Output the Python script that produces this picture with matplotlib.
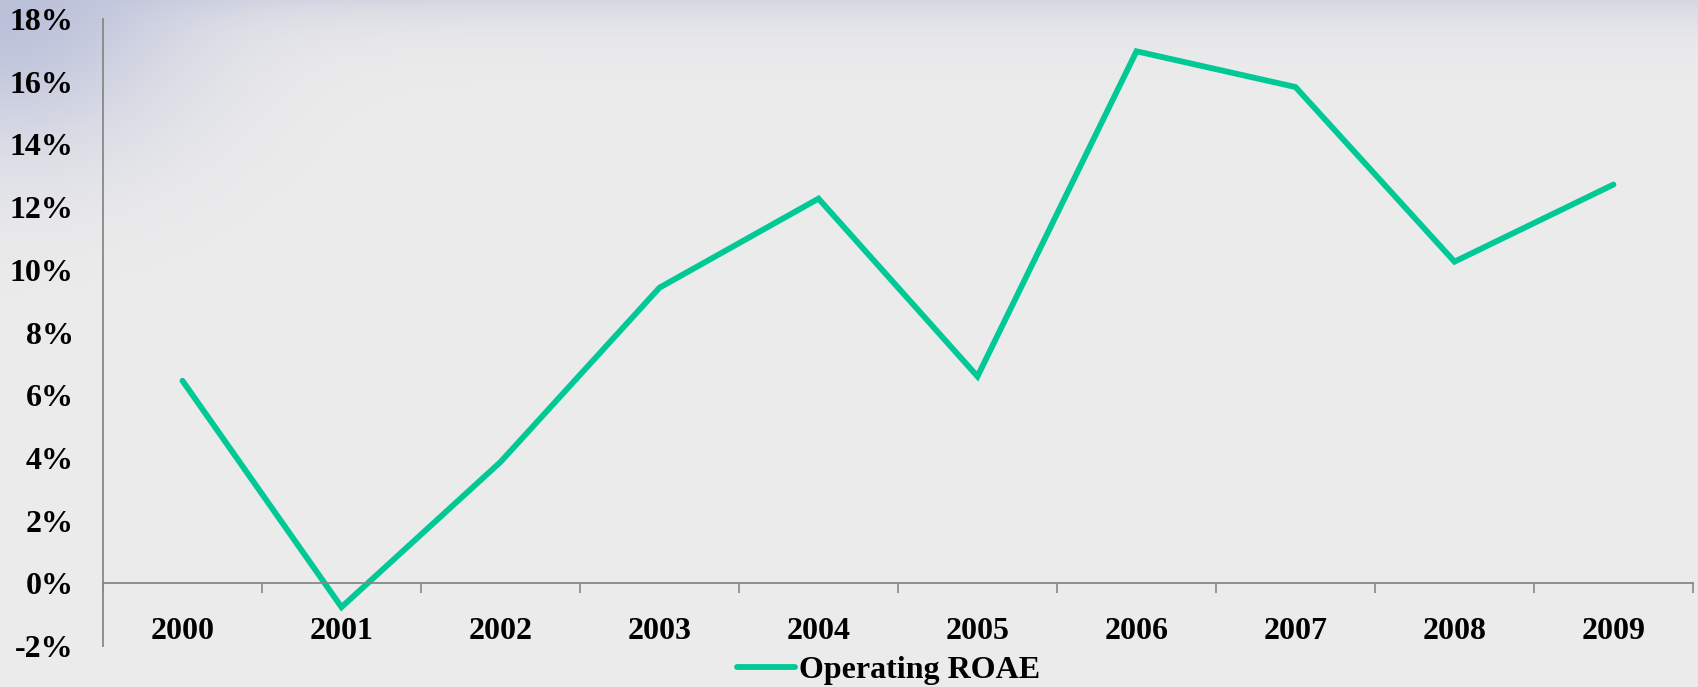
import numpy as np
import matplotlib.pyplot as plt

# Operating ROAE by year (%)
years = ['2000', '2001', '2002', '2003', '2004', '2005', '2006', '2007', '2008', '2009']
roae = [6.46, -0.76, 3.87, 9.43, 12.27, 6.6, 16.97, 15.83, 10.26, 12.72]
yticks = [-2, 0, 2, 4, 6, 8, 10, 12, 14, 16, 18]

W, H = 1698, 687
fig = plt.figure(figsize=(W / 100, H / 100), dpi=100)

# light grey backdrop with a bluish wash along the top and top-left corner
yy, xx = np.mgrid[0:H, 0:W].astype(float)
base = np.array([236, 236, 236]) / 255
top = np.array([212, 214, 226]) / 255
corner = np.array([188, 193, 218]) / 255
t_top = np.exp(-yy / 26.0)[..., None]
t_corner = np.exp(-((xx / 190.0) ** 2 + (yy / 150.0) ** 2))[..., None]
bg = base * (1 - t_top) + top * t_top
bg = bg * (1 - t_corner) + corner * t_corner
bgax = fig.add_axes([0, 0, 1, 1], zorder=-1)
bgax.imshow(bg, aspect='auto', extent=[0, 1, 0, 1])
bgax.axis('off')

font = dict(family='Liberation Serif', weight='bold', size=23)

ax = fig.add_axes([103 / W, 1 - 646 / H, 1590 / W, 627 / H])
ax.patch.set_alpha(0)
x = np.arange(len(years))
ax.plot(x, roae, color='#00c995', lw=4.2, solid_capstyle='round',
        solid_joinstyle='miter', label='Operating ROAE')

ax.set_xlim(-0.5, len(years) - 0.5)
ax.set_ylim(-2, 18)
ax.set_yticks(yticks)
ax.set_yticklabels([f'{v}%' for v in yticks], fontdict=font)
ax.tick_params(axis='y', length=0, pad=21)

# category axis sits on the zero line, ticks between categories
ax.spines['bottom'].set_position(('data', 0))
ax.set_xticks(np.arange(len(years) + 1) - 0.5)
ax.set_xticklabels([])
ax.set_xticks(x, minor=True)
ax.set_xticklabels(years, minor=True, fontdict=font)
ax.tick_params(axis='x', which='major', direction='out', length=7, width=1.2, color='#888888')
ax.tick_params(axis='x', which='minor', length=0, pad=24)

for s in ['top', 'right']:
    ax.spines[s].set_visible(False)
for s in ['left', 'bottom']:
    ax.spines[s].set_color('#888888')
    ax.spines[s].set_linewidth(1.3)

leg = ax.legend(loc='center left', bbox_to_anchor=(737 / W, 1 - 670 / H),
                bbox_transform=fig.transFigure, frameon=False,
                prop=dict(family='Liberation Serif', weight='bold', size=23),
                handlelength=1.8, handletextpad=0.15, borderpad=0, borderaxespad=0)

fig.savefig('out.png', dpi=100)
